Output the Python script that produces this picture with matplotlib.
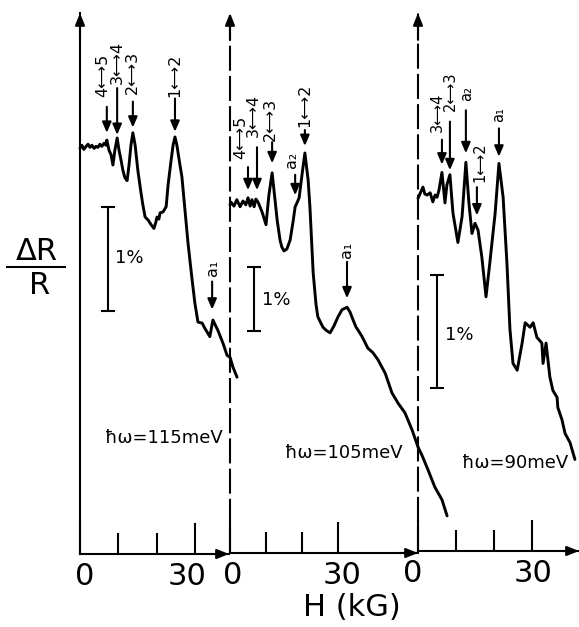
import matplotlib
matplotlib.use("Agg")
import matplotlib.pyplot as plt
from matplotlib.ticker import FixedLocator
from matplotlib.lines import Line2D
from matplotlib.transforms import ScaledTranslation

# ---------------- data (H in kG, dR/R in %) ----------------
# panel 1: hbar*omega = 115 meV
h1 = [0, 0.5, 1.0, 1.6, 2.1, 2.6, 3.1, 3.7, 4.2, 4.7, 5.2, 5.7, 6.3, 6.8, 7.0, 7.6,
      8.1, 8.6, 9.1, 9.7, 10.2, 10.7, 11.2, 11.7, 12.3, 12.8, 13.3, 13.8, 14.4, 15.1,
      15.9, 16.4, 17.0, 17.8, 18.5, 19.3, 19.8, 20.1, 20.6, 20.9, 21.7, 22.5, 23.0,
      23.8, 24.3, 24.8, 25.3, 26.1, 26.6, 27.4, 28.2, 29.2, 30.0, 30.8, 31.9, 32.6,
      33.9, 34.7, 36.0, 37.3, 38.4, 39.2, 39.9, 41.0]
r1 = [3.90, 3.93, 3.89, 3.92, 3.94, 3.91, 3.93, 3.90, 3.92, 3.91, 3.94, 3.92, 3.95,
      3.93, 3.98, 3.88, 3.84, 3.74, 3.88, 4.00, 3.88, 3.79, 3.69, 3.62, 3.59, 3.74,
      3.93, 4.05, 3.93, 3.69, 3.48, 3.36, 3.24, 3.21, 3.17, 3.13, 3.19, 3.24, 3.22,
      3.28, 3.29, 3.34, 3.55, 3.79, 3.93, 4.01, 3.93, 3.74, 3.63, 3.31, 2.99, 2.66,
      2.41, 2.23, 2.22, 2.17, 2.09, 2.25, 2.15, 2.03, 1.91, 1.89, 1.80, 1.70]

# panel 2: hbar*omega = 105 meV
h2 = [0, 0.3, 1.1, 1.9, 2.8, 3.6, 4.4, 5.0, 5.6, 6.1, 6.7, 7.2, 7.8, 8.9, 10.0, 10.8,
      11.7, 12.5, 13.1, 13.9, 14.4, 15.0, 15.8, 16.7, 17.5, 18.1, 18.6, 19.2, 20.0,
      20.8, 21.7, 22.2, 23.1, 23.9, 24.4, 25.8, 26.7, 27.8, 28.9, 30.0, 31.1, 32.5,
      33.3, 34.2, 35.0, 35.6, 36.7, 38.3, 39.7, 41.1, 43.1, 45.0, 46.7, 48.6, 50.6,
      52.2, 53.3, 55.0, 56.9, 58.9, 60.3]
r2 = [5.44, 5.48, 5.42, 5.52, 5.41, 5.50, 5.44, 5.55, 5.42, 5.52, 5.41, 5.53, 5.48,
      5.33, 5.13, 5.59, 5.94, 5.52, 5.20, 4.89, 4.78, 4.72, 4.75, 4.89, 5.17, 5.41,
      5.47, 5.55, 5.91, 6.25, 5.83, 5.41, 4.38, 3.88, 3.69, 3.53, 3.48, 3.44, 3.55,
      3.69, 3.80, 3.84, 3.77, 3.64, 3.53, 3.48, 3.38, 3.20, 3.13, 3.02, 2.81, 2.50,
      2.34, 2.19, 1.92, 1.66, 1.53, 1.30, 1.03, 0.83, 0.58]

# panel 3: hbar*omega = 90 meV
h3 = [0, 0.5, 1.3, 1.8, 2.4, 3.2, 3.9, 4.5, 5.0, 5.5, 6.3, 7.1, 7.6, 8.4, 9.2, 10.5,
      11.6, 12.6, 13.4, 14.2, 15.0, 15.8, 16.8, 17.9, 18.9, 20.3, 21.3, 22.4, 23.4,
      24.2, 25.0, 26.1, 27.4, 28.2, 29.5, 30.3, 31.3, 32.6, 32.9, 33.7, 34.7, 35.5,
      36.6, 36.8, 37.9, 38.7, 40.0, 41.3]
r3 = [3.12, 3.16, 3.22, 3.16, 3.15, 3.17, 3.09, 3.15, 3.13, 3.19, 3.35, 3.08, 3.24,
      3.33, 2.99, 2.73, 2.96, 3.44, 3.08, 2.81, 2.90, 2.84, 2.60, 2.25, 2.55, 2.99,
      3.43, 3.13, 2.55, 1.96, 1.66, 1.60, 1.84, 2.02, 1.98, 2.02, 1.89, 1.84, 1.66,
      1.84, 1.54, 1.42, 1.36, 1.27, 1.16, 1.04, 0.96, 0.81]

curves_h = [h1, h2, h3]
curves_r = [r1, r2, r3]

# transition markers: label, arrow field (kG), tip, tail (%), label centre (kG, %)
p1_labels = ["4⟷5", "3⟷4", "2⟷3", "1⟷2", "a₁"]
p1_h = [7.0, 9.7, 13.8, 24.8, 34.5]
p1_tip = [4.05, 4.03, 4.10, 4.06, 2.35]
p1_tail = [4.30, 4.48, 4.35, 4.38, 2.62]
p1_labh = [6.0, 9.7, 13.6, 24.8, 34.5]
p1_lab = [4.60, 4.73, 4.63, 4.60, 2.75]

p2_labels = ["4⟷5", "3⟷4", "2⟷3", "a₂", "1⟷2", "a₁"]
p2_h = [5.0, 7.5, 11.7, 18.1, 20.8, 32.5]
p2_tip = [5.67, 5.67, 6.09, 5.59, 6.36, 3.98]
p2_tail = [6.03, 6.34, 6.42, 5.91, 6.61, 4.55]
p2_labh = [3.0, 6.6, 11.3, 17.2, 20.8, 32.5]
p2_lab = [6.50, 6.84, 6.77, 6.14, 7.00, 4.73]

p3_labels = ["3⟷4", "2⟷3", "a₂", "1⟷2", "a₁"]
p3_h = [6.3, 8.4, 12.6, 15.5, 21.3]
p3_tip = [3.42, 3.37, 3.52, 2.97, 3.49]
p3_tail = [3.64, 3.80, 3.90, 3.22, 3.74]
p3_labh = [5.0, 8.5, 12.9, 16.2, 21.3]
p3_lab = [3.88, 4.07, 4.05, 3.44, 3.86]

marks = [
    (p1_labels, p1_h, p1_tip, p1_tail, p1_labh, p1_lab),
    (p2_labels, p2_h, p2_tip, p2_tail, p2_labh, p2_lab),
    (p3_labels, p3_h, p3_tip, p3_tail, p3_labh, p3_lab),
]

# 1% scale bars: field position, lower end (%), length (%)
bar_h = [7.3, 6.7, 5.0]
bar_lo = [2.34, 3.47, 1.44]
bar_len = 1.0
bar_text = "1%"
bar_text_pos = [(9.1, 2.85), (8.9, 3.95), (7.1, 1.91)]

energies = ["ħω=115meV", "ħω=105meV", "ħω=90meV"]
energy_pos = [(6.5, 1.12), (15.3, 1.56), (11.6, 0.78)]

xticks_major = [0, 30]
xticks_minor = [10, 20]
xtick_labels = ["0", "30"]

# ---------------- layout (pixels) ----------------
W, H = 579, 627
TOP = 13
panel_px = [  # x0, x_right, y of axis, px per kG, px per %
    (80, 229, 554, 3.83, 104.0),
    (230, 418, 553, 3.60, 64.0),
    (418, 579, 551, 3.80, 113.0),
]
label_fs = [11.5, 11.5, 10.5]
ticklabel_shift = [(5, -8), (3, 4), (-5, 1)]  # px shifts for "0" / "30" labels

fig = plt.figure(figsize=(W / 100, H / 100), dpi=100)

axis_arrow = dict(arrowstyle="-|>,head_length=0.45,head_width=0.18",
                  mutation_scale=16, color="black", lw=1.5, shrinkA=0, shrinkB=0)
mark_arrow = dict(arrowstyle="-|>,head_length=0.42,head_width=0.18",
                  mutation_scale=15, color="black", lw=1.5, shrinkA=0, shrinkB=0)

for i, (x0, xr, y0, sx, sy) in enumerate(panel_px):
    ax = fig.add_axes([x0 / W, 1 - y0 / H, (xr - x0) / W, (y0 - TOP) / H])
    ax.set_xlim(0, (xr - x0) / sx)
    ax.set_ylim(0, (y0 - TOP) / sy)
    ax.patch.set_visible(False)
    for s in ("top", "right"):
        ax.spines[s].set_visible(False)
    ax.spines["bottom"].set_linewidth(1.5)
    ax.spines["left"].set_linewidth(1.5)
    if i > 0:
        ax.spines["left"].set_linestyle((0, (11, 3.5)))
    ax.set_yticks([])
    ax.set_xticks(xticks_major)
    ax.set_xticklabels(xtick_labels, fontsize=22)
    ax.xaxis.set_minor_locator(FixedLocator(xticks_minor))
    ax.tick_params(axis="x", which="major", direction="in", length=22, width=1.5, pad=6)
    ax.tick_params(axis="x", which="minor", direction="in", length=15, width=1.5)
    for lbl, dx in zip(ax.get_xticklabels(), ticklabel_shift[i]):
        lbl.set_transform(lbl.get_transform() +
                          ScaledTranslation(dx / 100, 0, fig.dpi_scale_trans))

    # axis arrowheads
    ax.annotate("", xy=(1, 0), xytext=(0.9, 0), xycoords="axes fraction",
                arrowprops=axis_arrow, annotation_clip=False)
    ax.annotate("", xy=(0, 1), xytext=(0, 0.95), xycoords="axes fraction",
                arrowprops=axis_arrow, annotation_clip=False)

    # spectrum
    ax.plot(curves_h[i], curves_r[i], color="black", lw=2.1, clip_on=False,
            solid_joinstyle="round", solid_capstyle="round")

    # transition arrows and labels
    labels, hs, tips, tails, labhs, labs = marks[i]
    for lab, hh, tp, tl, lh, lc in zip(labels, hs, tips, tails, labhs, labs):
        ax.annotate("", xy=(hh, tp), xytext=(hh, tl), arrowprops=mark_arrow,
                    annotation_clip=False)
        ax.text(lh, lc, lab, rotation=90, ha="center", va="center",
                fontsize=label_fs[i])

    # 1% scale bar
    ax.errorbar([bar_h[i]], [bar_lo[i] + bar_len / 2], yerr=[bar_len / 2],
                fmt="none", ecolor="black", elinewidth=1.5, capsize=5, capthick=1.5)
    ax.text(bar_text_pos[i][0], bar_text_pos[i][1], bar_text, ha="left",
            va="center", fontsize=13)

    # photon energy
    ax.text(energy_pos[i][0], energy_pos[i][1], energies[i], ha="left",
            va="center", fontsize=13)

# y label as a fraction
fig.text(37 / W, 1 - 252 / H, "ΔR", fontsize=22, ha="center", va="center")
fig.add_artist(Line2D([7 / W, 65 / W], [1 - 267 / H, 1 - 267 / H],
                      color="black", lw=1.5))
fig.text(40 / W, 1 - 286 / H, "R", fontsize=22, ha="center", va="center")

fig.text(352 / W, 1 - 607 / H, "H (kG)", fontsize=22, ha="center", va="center")

fig.savefig("out.png", dpi=100)
